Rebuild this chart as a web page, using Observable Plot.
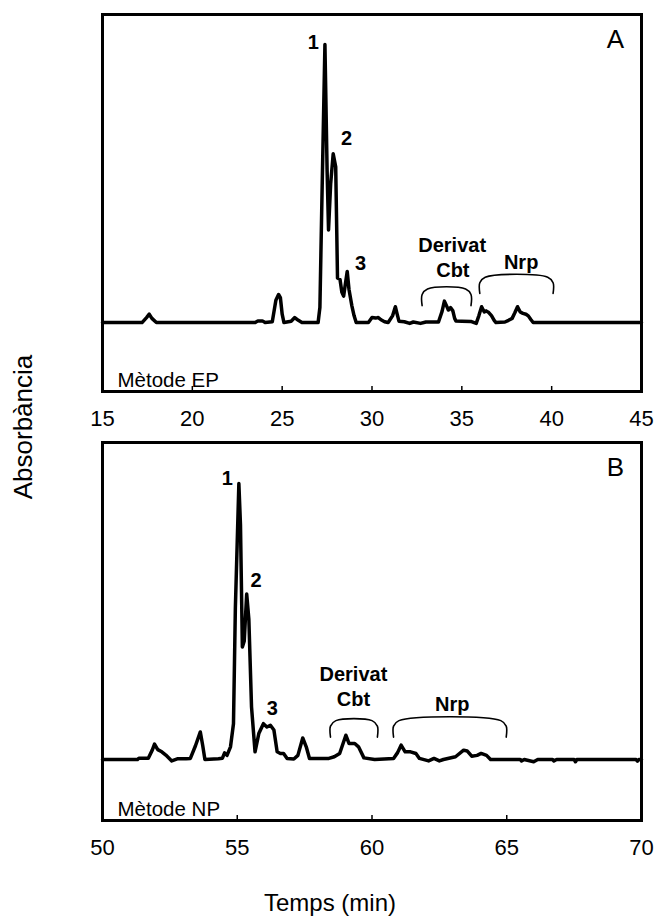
<!DOCTYPE html>
<html><head><meta charset="utf-8">
<script src="https://cdn.jsdelivr.net/npm/d3@7"></script>
<script src="https://cdn.jsdelivr.net/npm/@observablehq/plot@0.6"></script>
<style>
body{margin:0;background:#fff;}
#wrap{position:relative;width:656px;height:919px;font-family:"Liberation Sans",Arial,sans-serif;color:#000;}
#wrap svg{display:block;}
.ylab{position:absolute;left:23px;top:427px;transform:translate(-50%,-50%) rotate(-90deg);font-size:26px;white-space:nowrap;}
.xlab{position:absolute;left:330px;top:903px;transform:translate(-50%,-50%);font-size:24px;white-space:nowrap;}
</style></head><body>
<div id="wrap"><div id="a"></div><div id="b"></div><div class="ylab">Absorbància</div><div class="xlab">Temps (min)</div></div>
<script>
// ---- Panel A (Mètode EP) ----
const timeA = [15,17.2,17.45,17.6,17.75,18.0,23.5,23.65,23.9,24.05,24.45,24.65,24.8,24.9,25.0,25.1,25.5,25.7,25.9,26.1,27.0,27.1,27.2,27.38,27.5,27.58,27.7,27.84,27.98,28.08,28.22,28.32,28.42,28.52,28.62,28.72,28.88,29.0,29.12,29.8,30.0,30.2,30.35,30.5,30.7,30.9,31.15,31.3,31.4,31.5,31.8,32.1,32.3,32.7,33.0,33.7,33.9,34.03,34.15,34.25,34.37,34.5,34.6,34.67,35.0,35.5,35.8,35.95,36.1,36.25,36.35,36.5,36.65,36.8,36.9,37.4,37.6,37.8,37.95,38.1,38.25,38.4,38.57,38.7,38.85,38.97,45];
const absA  = [0,0,1.8,3.0,1.5,0,0,0.6,0.6,0,0.3,8,10.1,9.0,3,0,0.5,1.8,0.8,0,0,5.4,40,100,55,33.3,50,60.7,56,16,15.5,11,9.5,14,18.4,11.9,6,2.5,0,0,1.8,1.6,1.8,1.0,0.3,0,2.5,5.7,3,0.5,0.3,-0.3,0.2,-0.3,0.2,0.2,4,7.7,6,4.5,5.4,4.2,1.5,0.6,0.5,0.4,-0.3,2.5,5.7,3.8,4.2,3.6,2.5,0.8,0,0.2,0.8,1.5,3.5,5.7,3.8,3.3,3.0,2.4,1,0,0];
const xDomainA = [15, 45];
const xTicksA = [15, 20, 25, 30, 35, 40, 45];
const yDomainA = [-24.8, 110.8];
const peakTextA = ["1", "2", "3"];
const peakTA = [26.74, 28.58, 29.36];
const peakYA = [100.7, 66.2, 21.2];
const annTextA = ["Derivat", "Cbt", "Nrp"];
const annTA = [34.46, 34.5, 38.3];
const annYA = [27.7, 18.7, 21.5];
const bracketStartA = [32.79, 36.0];
const bracketEndA = [35.51, 40.08];
const bracketTopA = [12.1, 16.3];
const bracketFootA = [6.1, 10.5];

// ---- Panel B (Mètode NP) ----
const timeB = [50,51.3,51.35,51.7,51.85,51.93,52.05,52.2,52.35,52.57,52.8,53.1,53.26,53.45,53.63,53.72,53.8,54.3,54.45,54.53,54.62,54.75,54.86,54.93,55.06,55.12,55.19,55.26,55.35,55.43,55.53,55.66,55.8,55.97,56.1,56.23,56.36,56.48,56.6,56.72,56.85,57.1,57.25,57.43,57.56,57.68,58.4,58.6,58.8,59.03,59.15,59.36,59.5,59.7,60.1,60.8,60.95,61.08,61.23,61.43,61.63,61.76,62.1,62.3,62.5,62.65,63.1,63.4,63.53,63.7,63.9,64.05,64.25,64.4,65.5,65.55,65.65,66.0,66.15,66.7,66.75,66.85,67.5,67.55,67.6,69.8,69.85,69.9,70];
const absB  = [0,0,0.5,0.5,3.5,5.6,3.6,2.8,1.6,-0.5,0.3,0.3,0.4,5,10,5,0,0.3,0.5,2.4,1.5,4.6,13,55,100,85,40.8,43,60,51,19,2.8,9.4,13,11.8,12.4,10.7,2.8,2.2,2.2,0.4,0.2,1.5,7.8,4.6,0.4,0.4,1,2.2,8.8,5.8,5.8,4.6,0.6,0,0.4,2.5,5.2,2.8,2.8,2.2,0.4,-0.5,0.4,-0.5,0,1.0,3.4,3.1,1.2,1.5,2.2,1.5,0,0,-0.5,0,-0.8,0,0,-0.5,0,0,-0.8,0,0,-0.6,0,0];
const xDomainB = [50, 70];
const xTicksB = [50, 55, 60, 65, 70];
const yDomainB = [-22.1, 114.9];
const peakTextB = ["1", "2", "3"];
const peakTB = [54.63, 55.7, 56.3];
const peakYB = [101.7, 64.9, 18.4];
const annTextB = ["Derivat", "Cbt", "Nrp"];
const annTB = [59.31, 59.31, 62.98];
const annYB = [30.8, 21.7, 19.8];
const bracketStartB = [58.46, 60.8];
const bracketEndB = [60.2, 64.98];
const bracketTopB = [14.1, 14.1];
const bracketFootB = [8.1, 8.1];

const FONT = '"Liberation Sans", Arial, sans-serif';

function bracketPts(starts, ends, tops, foots, dx, r) {
  const pts = [];
  starts.forEach((s, i) => {
    const e = ends[i], t = tops[i], f = foots[i];
    [[s, f], [s, t - r], [s + dx, t], [e - dx, t], [e, t - r], [e, f]]
      .forEach(([x, y]) => pts.push({id: i, x, y}));
  });
  return pts;
}

function panel(o) {
  const trace = o.time.map((t, i) => ({t, a: o.abs[i]}));
  const peaks = o.peakText.map((s, i) => ({s, x: o.peakT[i], y: o.peakY[i]}));
  const ann = o.annText.map((s, i) => ({s, x: o.annT[i], y: o.annY[i]}));
  return Plot.plot({
    width: 656, height: o.height,
    marginTop: o.marginTop, marginBottom: o.marginBottom, marginLeft: 102, marginRight: 15,
    style: {fontFamily: FONT, background: "white", color: "black", overflow: "visible"},
    x: {domain: o.xDomain, ticks: o.xTicks},
    y: {domain: o.yDomain, axis: null},
    marks: [
      Plot.line(o.brackets, {x: "x", y: "y", z: "id", curve: "catmull-rom", stroke: "black", strokeWidth: 1.6}),
      Plot.line(trace, {x: "t", y: "a", stroke: "black", strokeWidth: 3.5, strokeLinejoin: "round"}),
      Plot.text(peaks, {x: "x", y: "y", text: "s", fontWeight: "bold", fontSize: 20, fill: "black"}),
      Plot.text(ann, {x: "x", y: "y", text: "s", fontWeight: "bold", fontSize: 20, fill: "black"}),
      Plot.text([o.letter], {frameAnchor: "top-right", dx: -26, dy: 25, text: d => d, textAnchor: "middle", lineAnchor: "middle", fontSize: 26, fill: "black"}),
      Plot.text([o.method], {frameAnchor: "bottom-left", dx: 15, dy: -5, text: d => d, textAnchor: "start", lineAnchor: "bottom", fontSize: 20.5, fill: "black"}),
      Plot.axisX({ticks: o.xTicks, tickSize: 0, tickPadding: 19, fontSize: 22, label: null}),
      Plot.axisX({ticks: o.xTicks, tickSize: -5, strokeWidth: 1.5, tickFormat: () => "", label: null}),
      Plot.frame({stroke: "black", strokeWidth: 3})
    ]
  });
}

document.getElementById("a").append(panel({
  time: timeA, abs: absA, xDomain: xDomainA, xTicks: xTicksA, yDomain: yDomainA,
  peakText: peakTextA, peakT: peakTA, peakY: peakYA,
  annText: annTextA, annT: annTA, annY: annYA,
  brackets: bracketPts(bracketStartA, bracketEndA, bracketTopA, bracketFootA, 0.3, 2),
  letter: "A", method: "Mètode EP", height: 440, marginTop: 14, marginBottom: 49
}));
document.getElementById("b").append(panel({
  time: timeB, abs: absB, xDomain: xDomainB, xTicks: xTicksB, yDomain: yDomainB,
  peakText: peakTextB, peakT: peakTB, peakY: peakYB,
  annText: annTextB, annT: annTB, annY: annYB,
  brackets: bracketPts(bracketStartB, bracketEndB, bracketTopB, bracketFootB, 0.2, 2),
  letter: "B", method: "Mètode NP", height: 479, marginTop: 2, marginBottom: 99
}));
</script>
</body></html>
